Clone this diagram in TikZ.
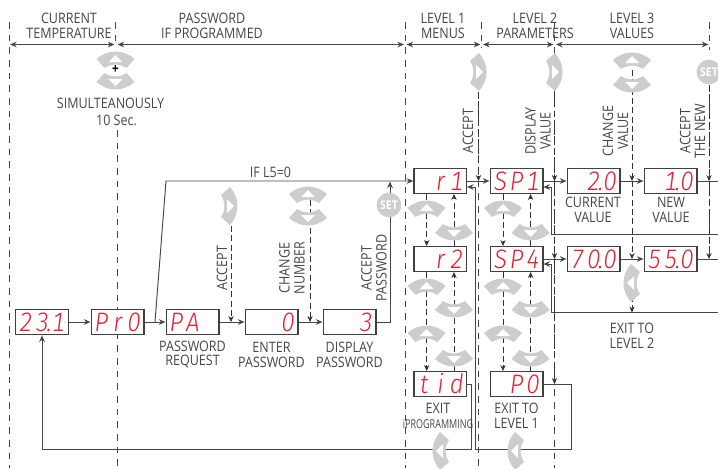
\documentclass[tikz,border=0pt]{standalone}
\usepackage{fontspec}
\setmainfont{Open Sans}[FakeStretch=0.87]
\newfontfamily\segfont{Fira Sans Light Italic}[FakeStretch=0.9,Numbers=Monospaced]
\usetikzlibrary{arrows.meta}
\definecolor{inkgray}{RGB}{70,70,70}
\definecolor{knobgray}{RGB}{205,205,205}
\definecolor{segred}{RGB}{237,28,46}
\newcommand{\segcell}[1]{\makebox[12.2pt][c]{#1}}
\newcommand{\segs}[3]{\segcell{#1}\segcell{#2}\segcell{#3}}
\newcommand{\segdot}{\rlap{\kern-1.6pt.}}
\tikzset{
    display/.style={draw=black!75, line width=1pt, fill=white, inner sep=0pt, minimum width=39.5pt, minimum height=19pt,
        text width=37pt, align=right, text=segred, font=\segfont\fontsize{20}{20}\selectfont},
    caption/.style={text=inkgray, align=center, inner sep=0pt, font=\fontsize{10.8}{11.2}\selectfont},
    wire/.style={draw=inkgray, line width=0.72pt},
    guide/.style={draw=inkgray, line width=0.55pt, dash pattern=on 5pt off 4.5pt},
    hint/.style={draw=black!80, line width=0.55pt, dash pattern=on 4.5pt off 2.5pt, -{Stealth[length=4.5pt,width=4pt]}},
    tip/.style={-{Stealth[length=5pt,width=4.2pt]}},
    both/.style={{Stealth[length=5pt,width=4.2pt]}-{Stealth[length=5pt,width=4.2pt]}},
    setbtn/.style={circle, fill=knobgray, minimum size=18.5pt, inner sep=0pt, text=white, font=\fontsize{9}{9}\bfseries\selectfont},
    knob/.pic={
        \fill[knobgray] (-19,-1) .. controls (-8,-11) and (8,-11) .. (19,-1) -- (11,8) .. controls (4,3.5) and (-4,3.5) .. (-11,8) -- cycle;
        \fill[white] (-7,2) -- (7,2) -- (0,-5) -- cycle;
    }
}
\begin{document}
\begin{tikzpicture}[x=0.75pt,y=-0.75pt]
    \useasboundingbox (0,0) rectangle (718,468);
    \clip (0,0) rectangle (718,468);

    % time columns
    \foreach \gx/\gya/\gyb in {9.5/22/468, 115.5/22/42, 117.5/130/468, 405/22/468, 481.5/22/48, 478.5/92/468, 554.5/22/468, 709/85/262, 709/22/50}
        \draw[guide] (\gx,\gya) -- (\gx,\gyb);

    % headers
    \node[caption] (hcur) at (69,25.5) {CURRENT\\TEMPERATURE};
    \node[caption] (hpass) at (212,25.5) {PASSWORD\\IF PROGRAMMED};
    \node[caption] (hone) at (443,25.5) {LEVEL 1\\MENUS};
    \node[caption] (htwo) at (535,25.5) {LEVEL 2\\PARAMETERS};
    \node[caption] (hthree) at (632,25.5) {LEVEL 3\\VALUES};

    \coordinate (ba) at (10,44.5);
    \coordinate (bb) at (114.5,44.5);
    \coordinate (bc) at (117.5,44.5);
    \coordinate (bd) at (404,44.5);
    \coordinate (be) at (406.5,44.5);
    \coordinate (bf) at (480.5,44.5);
    \coordinate (bg) at (483,44.5);
    \coordinate (bh) at (553.5,44.5);
    \coordinate (bi) at (556,44.5);
    \coordinate (bj) at (708.5,44.5);
    \draw[wire,both] (ba) -- (bb);
    \draw[wire,both] (bc) -- (bd);
    \draw[wire,both] (be) -- (bf);
    \draw[wire,both] (bg) -- (bh);
    \draw[wire,both] (bi) -- (bj);

    % displays
    \node[display] (cur) at (42,322) {\segs{2}{3\segdot}{1}};
    \node[display] (pro) at (117.5,322) {\segs{P}{r}{0}};
    \node[display] (pa) at (192.5,322) {\segs{P}{A}{}};
    \node[display] (enter) at (271.5,322) {\segs{}{}{0}};
    \node[display] (disp) at (349.5,322) {\segs{}{}{3}};

    \node[display] (rone) at (440.3,181) {\segs{}{r}{1}};
    \node[display] (rtwo) at (440.3,259) {\segs{}{r}{2}};
    \node[display] (tid) at (440.3,384) {\segs{t}{i}{d}};
    \node[display] (spone) at (516.5,181) {\segs{S}{P}{1}};
    \node[display] (spfour) at (516.5,259) {\segs{S}{P}{4}};
    \node[display] (pzero) at (516.5,384) {\segs{}{P}{0}};
    \node[display] (valone) at (593.5,181) {\segs{}{2\segdot}{0}};
    \node[display] (newone) at (670.5,181) {\segs{}{1\segdot}{0}};
    \node[display] (valtwo) at (593.5,259) {\segs{7}{0\segdot}{0}};
    \node[display] (newtwo) at (670.5,259) {\segs{5}{5\segdot}{0}};

    % captions
    \node[caption] (csim) at (110.5,103) {SIMULTEANOUSLY};
    \node[caption] (csec) at (116.5,120) {10 Sec.};
    \node[caption] (cifl) at (270.5,172.5) {IF L5=0};
    \node[caption] (creq) at (192.5,354.5) {PASSWORD\\REQUEST};
    \node[caption] (cent) at (271.5,354.5) {ENTER\\PASSWORD};
    \node[caption] (cdis) at (349.5,354.5) {DISPLAY\\PASSWORD};
    \node[caption] (ccur) at (593,209.5) {CURRENT\\VALUE};
    \node[caption] (cnew) at (671,209.5) {NEW\\VALUE};
    \node[caption] (cexl) at (632,335.5) {EXIT TO\\LEVEL 2};
    \node[caption] (cexo) at (516.5,415.5) {EXIT TO\\LEVEL 1};
    \node[caption] (cexp) at (438,415.5) {EXIT\\\scalebox{0.72}[0.85]{iPROGRAMMING}};

    \node[caption,rotate=90] (racc) at (222,268) {ACCEPT};
    \node[caption,rotate=90] (rchg) at (292,268) {CHANGE\\NUMBER};
    \node[caption,rotate=90] (rapw) at (374,268) {ACCEPT\\PASSWORD};
    \node[caption,rotate=90] (rlev) at (468,131) {ACCEPT};
    \node[caption,rotate=90] (rdsp) at (538,131) {DISPLAY\\VALUE};
    \node[caption,rotate=90] (rval) at (615.5,131) {CHANGE\\VALUE};
    \node[caption,rotate=90] (rnew) at (692.5,131) {ACCEPT\\THE NEW};

    % solid connectors
    \coordinate (forka) at (155,322);
    \coordinate (forkb) at (166,181);
    \coordinate (riser) at (390,322);
    \coordinate (riset) at (390,181.5);
    \coordinate (tidr) at (471.5,384);
    \coordinate (tidb) at (471.5,449);
    \coordinate (curb) at (42,449);
    \coordinate (pzr) at (571,384);
    \coordinate (pzb) at (571,449);
    \coordinate (lnb) at (475.5,449);
    \coordinate (lnt) at (475.5,187);
    \coordinate (rinone) at (467,187);
    \coordinate (spa) at (551.5,187);
    \coordinate (spb) at (551.5,234);
    \coordinate (spc) at (718,234);
    \coordinate (spd) at (551.5,264);
    \coordinate (spe) at (551.5,312.5);
    \coordinate (spf) at (718,312.5);
    \coordinate (spone in) at (543.3,187);
    \coordinate (spfour in) at (543.3,264);
    \coordinate (endone) at (718,181);
    \coordinate (endtwo) at (718,259);

    \draw[wire,tip] (cur) -- (pro);
    \draw[wire,tip] (pro) -- (pa);
    \draw[wire,tip] (pa) -- (enter);
    \draw[wire,tip] (enter) -- (disp);
    \draw[wire,tip] (forka) -- (forkb) -- (rone);
    \draw[wire,tip] (disp) -- (riser) -- (riset);
    \draw[wire,tip] (tid.east) -- (tidr) -- (tidb) -- (curb) -- (cur);
    \draw[wire,tip] (pzero.east) -- (pzr) -- (pzb) -- (lnb) -- (lnt) -- (rinone);
    \draw[wire,tip] (rone) -- (spone);
    \draw[wire,tip] (spone) -- (valone);
    \draw[wire,tip] (valone) -- (newone);
    \draw[wire] (newone) -- (endone);
    \draw[wire,tip] (spfour) -- (valtwo);
    \draw[wire,tip] (valtwo) -- (newtwo);
    \draw[wire] (newtwo) -- (endtwo);
    \draw[wire,tip] (spc) -- (spb) -- (spa) -- (spone in);
    \draw[wire,tip] (spf) -- (spe) -- (spd) -- (spfour in);

    % dashed hints
    \coordinate (kacc) at (231,226);
    \coordinate (kchg) at (310,200);
    \coordinate (klev) at (478.5,92);
    \coordinate (kdsp) at (554.5,92);
    \coordinate (kval) at (632,70);
    \coordinate (knew) at (709,85);
    \coordinate (kexit) at (632,296);
    \draw[hint] (kacc) -- (kacc |- pa);
    \draw[hint] (kchg) -- (kchg |- enter);
    \draw[hint] (klev) -- (klev |- rone);
    \draw[hint] (kdsp) -- (kdsp |- spone);
    \draw[hint] (kval) -- (kval |- valone);
    \draw[hint] (knew) -- (knew |- newone);
    \draw[hint] (kval |- valone) -- (kval |- valtwo);
    \draw[hint] (knew |- newone) -- (knew |- newtwo);
    \draw[hint] (kexit) -- (kexit |- spf);
    \draw[hint] (kdsp |- spone) -- (kdsp |- spfour);
    \draw[hint] (kdsp |- spfour) -- (kdsp |- pzero);

    \foreach \hx/\hname in {426.7/a,454/b,503/c,530.6/d}{
        \coordinate (up\hname) at (\hx,194);
        \coordinate (mid\hname) at (\hx,246);
        \coordinate (low\hname) at (\hx,272);
        \coordinate (end\hname) at (\hx,371);
    }
    \draw[hint] (upa) -- (mida);
    \draw[hint] (midb) -- (upb);
    \draw[hint] (upc) -- (midc);
    \draw[hint] (midd) -- (upd);
    \draw[hint] (lowa) -- (enda);
    \draw[hint] (endb) -- (lowb);
    \draw[hint] (lowc) -- (endc);
    \draw[hint] (endd) -- (lowd);

    % buttons
    \foreach \kx/\ky/\krot in {115.5/60/0, 115.5/81/180, 229/206/-90, 308/195/0, 308/217/180,
        478/72/-90, 554/72/-90, 632/61/0, 632/84/180, 632/283/90, 441/451/90, 516/451/90,
        426.5/209/0, 454/232/180, 503/209/0, 530.6/232/180,
        426.5/287/0, 454/309/180, 503/287/0, 530.6/309/180,
        426.5/334/0, 454/358/180, 503/334/0, 530.6/358/180}
        \pic[rotate=\krot] at (\kx,\ky) {knob};

    \node[text=black,inner sep=0pt,font=\bfseries] (plus) at (115.5,69.5) {+};
    \node[setbtn] (setone) at (389,205) {SET};
    \node[setbtn] (settwo) at (709,72) {SET};
\end{tikzpicture}
\end{document}
